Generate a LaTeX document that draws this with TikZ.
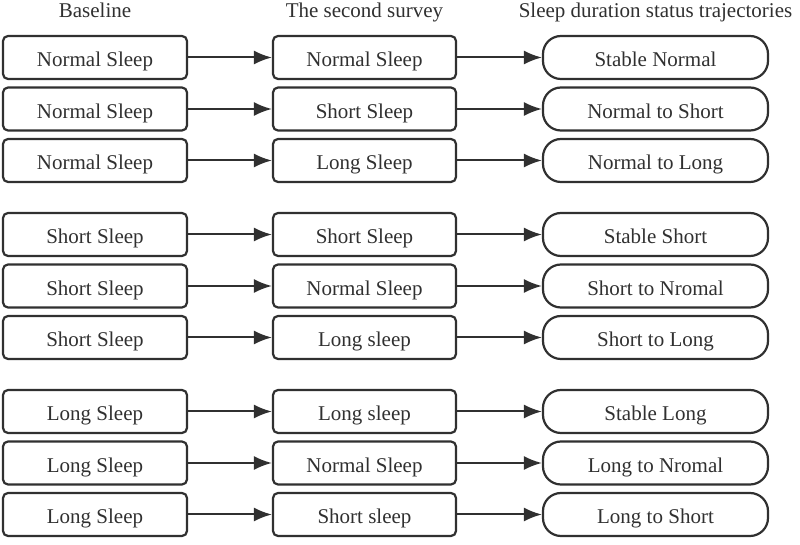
\documentclass[tikz,border=0pt]{standalone}
\usepackage{fontspec}
\setmainfont{Liberation Serif}
\usetikzlibrary{arrows.meta}
\definecolor{ink}{HTML}{303030}
\begin{document}
\begin{tikzpicture}[
    x=0.5pt, y=-0.5pt,
    >={Latex[length=9pt,width=7pt]},
    font=\fontsize{10.5}{12.6}\selectfont,
    every node/.style={text=ink},
    head/.style={
        inner sep=0pt,
        anchor=base
    },
    base/.style={
        draw=ink,
        rectangle,
        rounded corners=2.5pt,
        minimum width=92pt,
        minimum height=21.5pt,
        text height=9.5pt,
        text depth=0pt,
        inner sep=0pt,
        line width=1.1pt
    },
    survey/.style={
        draw=ink,
        rectangle,
        rounded corners=2.5pt,
        minimum width=91.5pt,
        minimum height=21.5pt,
        text height=9.5pt,
        text depth=0pt,
        inner sep=0pt,
        line width=1.1pt
    },
    traj/.style={
        draw=ink,
        rectangle,
        rounded corners=9pt,
        minimum width=112.5pt,
        minimum height=21.5pt,
        text height=9.5pt,
        text depth=0pt,
        inner sep=0pt,
        line width=1.1pt
    },
    link/.style={
        ->,
        draw=ink,
        line width=1pt
    }
]
\useasboundingbox (0,0) rectangle (800,545);

% column titles
\node[head] (hbase) at (95,18) {Baseline};
\node[head] (hsurv) at (364.5,18) {The second survey};
\node[head] (htraj) at (655.5,18) {Sleep duration status trajectories};

% normal sleep at baseline
\node[base] (base1) at (95,57.5) {Normal Sleep};
\node[base] (base2) at (95,109) {Normal Sleep};
\node[base] (base3) at (95,160.5) {Normal Sleep};
\node[survey] (surv1) at (364.5,57.5) {Normal Sleep};
\node[survey] (surv2) at (364.5,109) {Short Sleep};
\node[survey] (surv3) at (364.5,160.5) {Long Sleep};
\node[traj] (traj1) at (655.5,57.5) {Stable Normal};
\node[traj] (traj2) at (655.5,109) {Normal to Short};
\node[traj] (traj3) at (655.5,160.5) {Normal to Long};

% short sleep at baseline
\node[base] (base4) at (95,234.5) {Short Sleep};
\node[base] (base5) at (95,286) {Short Sleep};
\node[base] (base6) at (95,337.5) {Short Sleep};
\node[survey] (surv4) at (364.5,234.5) {Short Sleep};
\node[survey] (surv5) at (364.5,286) {Normal Sleep};
\node[survey] (surv6) at (364.5,337.5) {Long sleep};
\node[traj] (traj4) at (655.5,234.5) {Stable Short};
\node[traj] (traj5) at (655.5,286) {Short to Nromal};
\node[traj] (traj6) at (655.5,337.5) {Short to Long};

% long sleep at baseline
\node[base] (base7) at (95,411.5) {Long Sleep};
\node[base] (base8) at (95,463) {Long Sleep};
\node[base] (base9) at (95,514.5) {Long Sleep};
\node[survey] (surv7) at (364.5,411.5) {Long sleep};
\node[survey] (surv8) at (364.5,463) {Normal Sleep};
\node[survey] (surv9) at (364.5,514.5) {Short sleep};
\node[traj] (traj7) at (655.5,411.5) {Stable Long};
\node[traj] (traj8) at (655.5,463) {Long to Nromal};
\node[traj] (traj9) at (655.5,514.5) {Long to Short};

\draw[link] (base1) -- (surv1);
\draw[link] (base2) -- (surv2);
\draw[link] (base3) -- (surv3);
\draw[link] (base4) -- (surv4);
\draw[link] (base5) -- (surv5);
\draw[link] (base6) -- (surv6);
\draw[link] (base7) -- (surv7);
\draw[link] (base8) -- (surv8);
\draw[link] (base9) -- (surv9);

\draw[link] (surv1) -- (traj1);
\draw[link] (surv2) -- (traj2);
\draw[link] (surv3) -- (traj3);
\draw[link] (surv4) -- (traj4);
\draw[link] (surv5) -- (traj5);
\draw[link] (surv6) -- (traj6);
\draw[link] (surv7) -- (traj7);
\draw[link] (surv8) -- (traj8);
\draw[link] (surv9) -- (traj9);
\end{tikzpicture}
\end{document}
